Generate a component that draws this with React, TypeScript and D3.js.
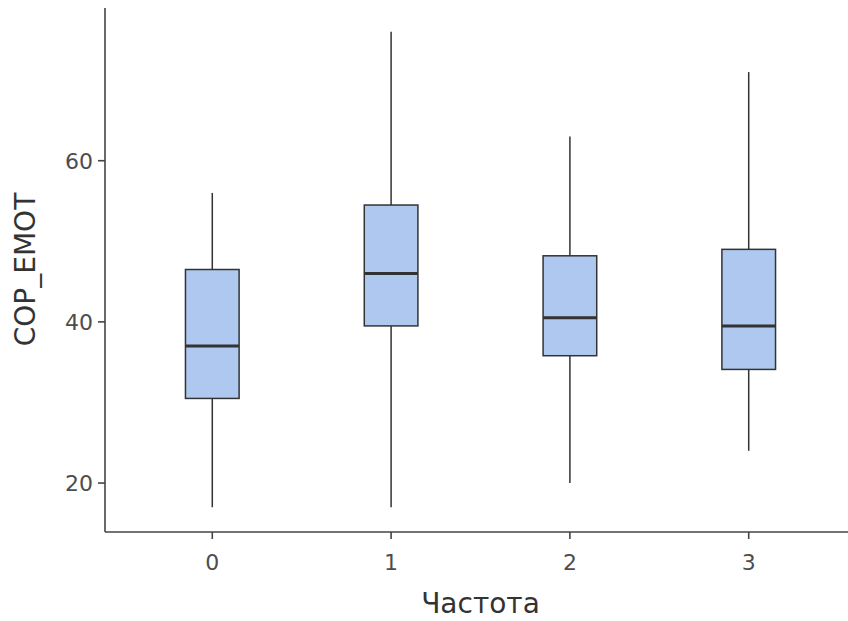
import * as d3 from 'd3';

const categories = ['0', '1', '2', '3'];
const whiskerLow = [17, 17, 20, 24];
const q1 = [30.5, 39.5, 35.8, 34.1];
const medians = [37, 46, 40.5, 39.5];
const q3 = [46.5, 54.5, 48.2, 49];
const whiskerHigh = [56, 76, 63, 71];
const yTicks = [20, 40, 60];

const width = 848;
const height = 621;
const left = 105;
const right = 856;
const top = 8;
const bottom = 531;

export default function App() {
  const x = d3.scalePoint<string>().domain(categories).range([left, right]).padding(0.6);
  const y = d3.scaleLinear().domain([14.05, 78.95]).range([bottom, top]);
  const boxW = x.step() * 0.3;
  const axisColor = '#444';
  const textColor = '#4d4d4d';

  return (
    <svg
      width={width}
      height={height}
      style={{ position: 'absolute', left: 0, top: 0, fontFamily: 'DejaVu Sans' }}
    >
      <rect width={width} height={height} fill="#fff" />
      {/* boxes */}
      {categories.map((c, i) => {
        const cx = x(c) as number;
        return (
          <g key={c}>
            <line x1={cx} x2={cx} y1={y(whiskerHigh[i])} y2={y(q3[i])} stroke="#333" strokeWidth={1.5} />
            <line x1={cx} x2={cx} y1={y(q1[i])} y2={y(whiskerLow[i])} stroke="#333" strokeWidth={1.5} />
            <rect
              x={cx - boxW / 2}
              y={y(q3[i])}
              width={boxW}
              height={y(q1[i]) - y(q3[i])}
              fill="#aec8f0"
              stroke="#333"
              strokeWidth={1.5}
            />
            <line x1={cx - boxW / 2} x2={cx + boxW / 2} y1={y(medians[i])} y2={y(medians[i])} stroke="#333" strokeWidth={3} />
          </g>
        );
      })}
      {/* y axis */}
      <line x1={left} x2={left} y1={top} y2={bottom + 1} stroke={axisColor} strokeWidth={1.6} />
      {yTicks.map((t) => (
        <g key={t}>
          <line x1={left - 7} x2={left} y1={y(t)} y2={y(t)} stroke={axisColor} strokeWidth={1.6} />
          <text x={left - 12} y={y(t)} dy="0.36em" textAnchor="end" fontSize={22} fill={textColor}>
            {t}
          </text>
        </g>
      ))}
      {/* x axis */}
      <line x1={left} x2={right} y1={bottom + 1} y2={bottom + 1} stroke={axisColor} strokeWidth={1.6} />
      {categories.map((c) => (
        <g key={c}>
          <line x1={x(c)} x2={x(c)} y1={bottom + 1} y2={bottom + 8} stroke={axisColor} strokeWidth={1.6} />
          <text x={x(c)} y={bottom + 39} textAnchor="middle" fontSize={22} fill={textColor}>
            {c}
          </text>
        </g>
      ))}
      <text x={(left + right) / 2} y={613} textAnchor="middle" fontSize={28} fill="#333">
        Частота
      </text>
      <text
        transform={`translate(35, ${(top + bottom) / 2}) rotate(-90)`}
        textAnchor="middle"
        fontSize={28}
        fill="#333"
      >
        COP_EMOT
      </text>
    </svg>
  );
}
